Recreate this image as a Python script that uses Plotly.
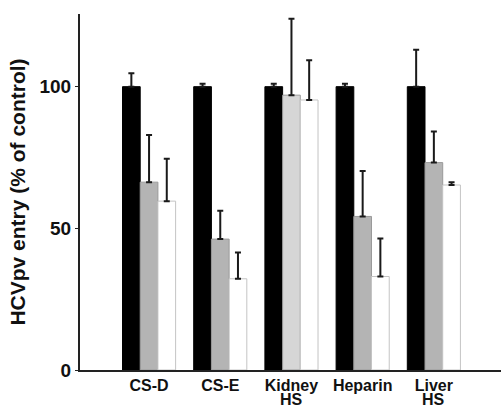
import plotly.graph_objects as go

categories = ["CS-D", "CS-E", "Kidney", "Heparin", "Liver"]
second_line = ["", "", "HS", "", "HS"]
black_vals = [100, 100, 100, 100, 100]
black_err = [4.7, 1.0, 1.0, 1.0, 13.0]
gray_vals = [66.3, 46.2, 97.0, 54.2, 73.2]
gray_err = [16.6, 10.0, 27.0, 16.0, 11.0]
white_vals = [59.6, 32.2, 95.3, 33.0, 65.3]
white_err = [15.0, 9.3, 14.0, 13.4, 1.0]
gray_colors = ["#b4b4b4", "#b4b4b4", "#d6d6d6", "#b4b4b4", "#b4b4b4"]
yticks = [0, 50, 100]

FONT = "Liberation Sans, Arial, sans-serif"
x = list(range(len(categories)))
zeros = [0] * len(categories)

def err(arr):
    return dict(type="data", symmetric=False, array=arr, arrayminus=zeros,
                color="#1a1a1a", thickness=2, width=3)

fig = go.Figure()
fig.add_trace(go.Bar(x=x, y=black_vals, marker=dict(color="#000000", line=dict(color="#000000", width=1)),
                     error_y=err(black_err)))
fig.add_trace(go.Bar(x=x, y=gray_vals, marker=dict(color=gray_colors, line=dict(color="#9a9a9a", width=1)),
                     error_y=err(gray_err)))
fig.add_trace(go.Bar(x=x, y=white_vals, marker=dict(color="#ffffff", line=dict(color="#c4c4c4", width=1)),
                     error_y=err(white_err)))

for i, t in enumerate(second_line):
    if t:
        fig.add_annotation(x=i, y=0, xref="x", yref="paper", text="<b>%s</b>" % t, showarrow=False,
                           yanchor="bottom", yshift=-39, borderpad=0,
                           font=dict(family=FONT, size=16, color="#111111"))

fig.update_layout(
    width=501, height=410,
    margin=dict(l=80, r=0, t=14, b=40),
    plot_bgcolor="white", paper_bgcolor="white",
    barmode="group", bargap=0.254, bargroupgap=0,
    showlegend=False,
    font=dict(family=FONT, color="#111111"),
)
fig.update_xaxes(
    range=[-0.97, 4.943], tickvals=x, ticktext=["<b>%s</b>" % c for c in categories],
    showline=True, linecolor="#222222", linewidth=1.5, ticks="", showgrid=False, zeroline=False,
    tickfont=dict(size=16, family=FONT),
)
fig.update_yaxes(
    range=[0, 125.65], tickvals=yticks, ticktext=["<b>%d</b>" % v for v in yticks],
    showline=True, linecolor="#222222", linewidth=2, ticks="outside", ticklen=3, tickwidth=1,
    tickcolor="#222222", showgrid=False, zeroline=False,
    tickfont=dict(size=19, family=FONT),
    title=dict(text="<b>HCVpv entry (% of control)</b>", font=dict(size=21), standoff=8),
)

fig.write_html("out.html")
